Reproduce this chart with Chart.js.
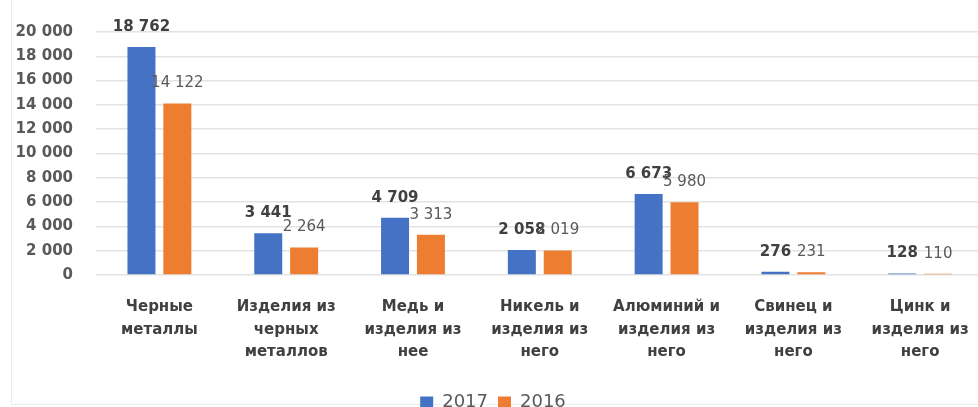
<!DOCTYPE html>
<html>
<head>
<meta charset="utf-8">
<script src="https://cdn.jsdelivr.net/npm/chart.js@4.4.0/dist/chart.umd.min.js"></script>
<style>
  html, body { margin: 0; padding: 0; background: #fff; }
  #wrap { position: relative; width: 978px; height: 407px; overflow: hidden; }
  #frame { position: absolute; left: 11px; top: -2px; width: 990px; height: 407px; border: 1px solid #ececec; box-sizing: border-box; }
  #c { position: absolute; left: 0; top: 0; }
</style>
</head>
<body>
<div id="wrap">
  <div id="frame"></div>
  <canvas id="c" width="990" height="421"></canvas>
</div>
<script>
// categories and values
const categories = [
  ['Черные', 'металлы'],
  ['Изделия из', 'черных', 'металлов'],
  ['Медь и', 'изделия из', 'нее'],
  ['Никель и', 'изделия из', 'него'],
  ['Алюминий и', 'изделия из', 'него'],
  ['Свинец и', 'изделия из', 'него'],
  ['Цинк и', 'изделия из', 'него']
];
const values2017 = [18762, 3441, 4709, 2058, 6673, 276, 128];
const values2016 = [14122, 2264, 3313, 2019, 5980, 231, 110];
const yTicks = [0, 2000, 4000, 6000, 8000, 10000, 12000, 14000, 16000, 18000, 20000];

const FONT = 'DejaVu Sans';

// thousands separated by a space, like "18 762"
function fmt(v) {
  return String(v).replace(/\B(?=(\d{3})+(?!\d))/g, ' ');
}

// draws the value above every bar
const valueLabels = {
  id: 'valueLabels',
  afterDatasetsDraw(chart) {
    const ctx = chart.ctx;
    ctx.save();
    ctx.textAlign = 'center';
    ctx.textBaseline = 'middle';
    chart.data.datasets.forEach((ds, i) => {
      const meta = chart.getDatasetMeta(i);
      ctx.font = (i === 0 ? 'bold ' : '') + '15px "' + FONT + '"';
      ctx.fillStyle = i === 0 ? '#404040' : '#595959';
      meta.data.forEach((bar, j) => {
        ctx.fillText(fmt(ds.data[j]), bar.x, bar.y - 20);
      });
    });
    ctx.restore();
  }
};

new Chart(document.getElementById('c'), {
  type: 'bar',
  data: {
    labels: categories,
    datasets: [
      {
        label: '2017',
        data: values2017,
        backgroundColor: '#4472C4',
        categoryPercentage: 0.566,
        barPercentage: 0.78
      },
      {
        label: '2016',
        data: values2016,
        backgroundColor: '#ED7D31',
        categoryPercentage: 0.566,
        barPercentage: 0.78
      }
    ]
  },
  options: {
    responsive: false,
    animation: false,
    layout: { padding: { top: 25, right: 4, left: 0, bottom: 0 } },
    plugins: {
      tooltip: { enabled: false },
      legend: {
        position: 'bottom',
        labels: {
          font: { family: FONT, size: 18 },
          color: '#595959',
          boxWidth: 13,
          boxHeight: 11,
          padding: 10
        }
      }
    },
    scales: {
      x: {
        grid: { display: false, drawTicks: false },
        border: { display: false },
        ticks: {
          font: { family: FONT, size: 15, weight: 'bold', lineHeight: 1.5 },
          color: '#404040',
          padding: 21,
          maxRotation: 0,
          autoSkip: false
        },
        afterFit(scale) { scale.height = 108; }
      },
      y: {
        min: 0,
        max: 20000,
        afterBuildTicks(scale) { scale.ticks = yTicks.map(v => ({ value: v })); },
        grid: { color: '#e3e3e3', lineWidth: 1.5, drawTicks: false },
        border: { display: false },
        ticks: {
          font: { family: FONT, size: 15, weight: 'bold' },
          color: '#595959',
          padding: 23,
          callback: v => fmt(v)
        },
        afterFit(scale) { scale.width = 96; }
      }
    }
  },
  plugins: [valueLabels]
});
</script>
</body>
</html>
